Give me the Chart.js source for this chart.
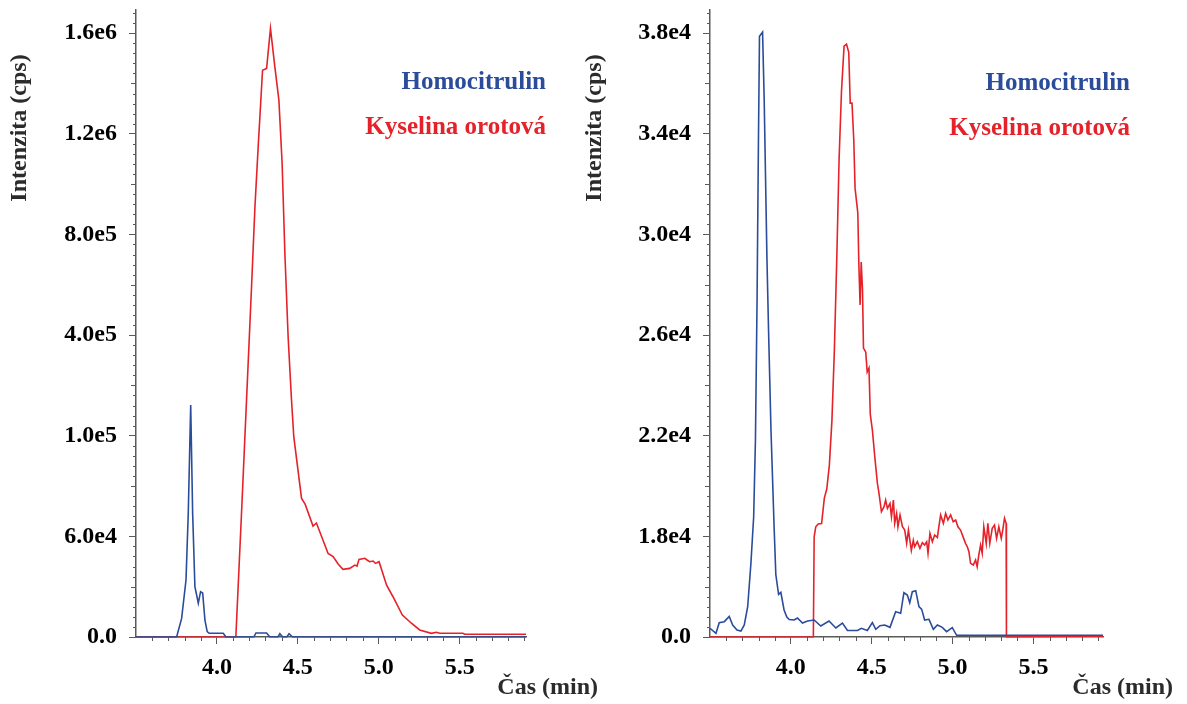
<!DOCTYPE html>
<html lang="cs">
<head>
<meta charset="utf-8">
<title>Homocitrulin a kyselina orotová</title>
<script src="https://cdn.jsdelivr.net/npm/chart.js@4.4.1/dist/chart.umd.min.js"></script>
<style>
  html, body { margin: 0; padding: 0; background: #fff; }
  body { width: 1187px; height: 704px; position: relative; overflow: hidden; }
  .panel { position: absolute; top: 0; height: 704px; }
  #panel-a { left: 0; width: 610px; }
  #panel-b { left: 575px; width: 612px; }
</style>
</head>
<body>
<div class="panel" id="panel-a"><canvas id="chart-a"></canvas></div>
<div class="panel" id="panel-b"><canvas id="chart-b"></canvas></div>
<script>
// time axis (min)
var timeTicks = [4.0, 4.5, 5.0, 5.5];

// intensity ticks (cps) - the axis is split into equal-height segments
var intensityTicksA = [0, 6e4, 1e5, 4e5, 8e5, 1.2e6, 1.6e6];
var intensityTicksB = [0, 1.8e4, 2.2e4, 2.6e4, 3.0e4, 3.4e4, 3.8e4];

// panel A - homocitrulin
var homoTimeA = [3.50, 3.751, 3.782, 3.809, 3.823, 3.838, 3.850, 3.864, 3.885, 3.899, 3.912, 3.926, 3.940, 3.952, 4.039, 4.056, 4.228, 4.241, 4.307, 4.327, 4.377, 4.389, 4.406, 4.432, 4.446, 4.467, 5.91];
var homoCpsA = [0, 0, 11100, 34000, 69300, 191500, 69300, 30000, 20100, 27000, 26200, 10100, 3200, 2200, 2200, 0, 0, 2400, 2400, 0, 0, 2000, 0, 0, 2000, 0, 0];

// panel A - kyselina orotova
var oroTimeA = [3.50, 4.117, 4.152, 4.183, 4.214, 4.235, 4.255, 4.282, 4.307, 4.331, 4.358, 4.383, 4.403, 4.420, 4.440, 4.461, 4.475, 4.523, 4.545, 4.594, 4.615, 4.687, 4.718, 4.749, 4.779, 4.821, 4.852, 4.866, 4.878, 4.914, 4.928, 4.944, 4.965, 4.980, 5.002, 5.048, 5.088, 5.146, 5.202, 5.253, 5.325, 5.356, 5.377, 5.520, 5.531, 5.91];
var oroCpsA = [0, 0, 69200, 206000, 592000, 909600, 1148000, 1452800, 1459600, 1618800, 1466000, 1333600, 1082000, 724400, 394900, 206000, 99600, 75100, 72800, 64100, 65300, 49800, 47900, 43500, 40300, 40900, 42900, 42300, 46300, 46900, 45900, 44900, 45300, 43900, 44900, 31000, 24000, 13100, 8200, 4200, 2200, 2800, 2200, 2200, 1600, 1600];

// panel B - homocitrulin
var homoTimeB = [3.50, 3.537, 3.557, 3.588, 3.619, 3.640, 3.667, 3.691, 3.712, 3.733,
  3.753, 3.770, 3.781, 3.791, 3.799, 3.806, 3.825, 3.835, 3.852, 3.862,
  3.877, 3.897, 3.907, 3.924, 3.938, 3.958, 3.975, 3.990, 4.020, 4.041,
  4.072, 4.103, 4.144, 4.185, 4.236, 4.278, 4.319, 4.350, 4.412, 4.436,
  4.473, 4.504, 4.525, 4.551, 4.580, 4.613, 4.648, 4.679, 4.699, 4.720,
  4.735, 4.751, 4.772, 4.792, 4.809, 4.827, 4.854, 4.881, 4.906, 4.936,
  4.963, 4.998, 5.025, 5.93];
var homoCpsB = [1560, 660, 2560, 2740, 3670, 2150, 1250, 1070, 2150, 5420,
  13180, 18780, 21830, 27390, 33350, 37880, 38040, 35380, 29070, 26200,
  22230, 18250, 11180, 7630, 7990, 4830, 3580, 3130, 3040, 3400,
  2500, 2860, 3040, 1970, 2860, 1610, 2500, 1160, 1160, 1560,
  1160, 2560, 1380, 2020, 2150, 1730, 4520, 4240, 7920, 7510,
  6130, 8100, 8280, 5420, 4950, 3040, 3160, 1380, 2150, 1730,
  950, 1660, 300, 300];

// panel B - kyselina orotova
var oroTimeB = [3.50, 4.139, 4.144, 4.154, 4.169, 4.190, 4.207, 4.222, 4.238, 4.254,
  4.269, 4.284, 4.298, 4.313, 4.329, 4.344, 4.358, 4.367, 4.378, 4.389,
  4.397, 4.414, 4.420, 4.428, 4.435, 4.443, 4.449, 4.463, 4.472, 4.483,
  4.491, 4.504, 4.519, 4.535, 4.545, 4.560, 4.576, 4.586, 4.597, 4.613,
  4.622, 4.634, 4.642, 4.654, 4.662, 4.675, 4.690, 4.704, 4.716, 4.727,
  4.736, 4.745, 4.757, 4.765, 4.782, 4.798, 4.813, 4.827, 4.840, 4.848,
  4.860, 4.875, 4.889, 4.906, 4.915, 4.926, 4.943, 4.957, 4.971, 4.988,
  5.004, 5.019, 5.033, 5.049, 5.066, 5.080, 5.091, 5.101, 5.111, 5.128,
  5.142, 5.152, 5.162, 5.173, 5.183, 5.193, 5.208, 5.218, 5.230, 5.245,
  5.259, 5.272, 5.286, 5.301, 5.310, 5.321, 5.331, 5.333, 5.93];
var oroCpsB = [0, 0, 17930, 18380, 18490, 18510, 19520, 19880, 20830, 22620,
  25400, 29060, 32950, 35690, 37480, 37560, 37240, 35220, 35220, 33750,
  31840, 30850, 28900, 27200, 28900, 27790, 25480, 25320, 24530, 24690,
  22860, 22220, 21160, 20110, 19710, 18980, 19180, 19440, 19110, 19310,
  18780, 19440, 18520, 18910, 18380, 18850, 18380, 18250, 16750, 18250,
  17280, 15490, 17280, 16150, 17040, 15860, 16860, 16450, 17040, 14970,
  18120, 17040, 18050, 17820, 18380, 18850, 18520, 18910, 18650, 18850,
  18580, 18650, 18380, 18250, 17820, 16750, 16150, 15250, 13180, 12870,
  13770, 12570, 14660, 16450, 14970, 18380, 16750, 18520, 16750, 18320,
  18450, 17650, 18380, 17650, 18250, 18720, 18520, 0, 150];

var BLUE = '#2b4c9b';
var RED = '#e5222a';
var AXIS = '#5a5a5a';
var FONT = "'Liberation Serif', 'Times New Roman', serif";

// Linear scale whose tick intervals all get the same height,
// whatever the value step between them is.
class SegmentScale extends Chart.LinearScale {
	static id = 'segment';

	get units() {
		return this.options.stops.length - 1 + this.options.headroom;
	}
	determineDataLimits() {
		var s = this.options.stops;
		var n = s.length - 1;
		this.min = s[0];
		this.max = s[n] + (s[n] - s[n - 1]) * this.options.headroom;
	}
	buildTicks() {
		return this.options.stops.map(function (v) { return { value: v }; });
	}
	toUnits(v) {
		var s = this.options.stops;
		for (var i = 0; i < s.length - 2; i++) {
			if (v <= s[i + 1]) return i + (v - s[i]) / (s[i + 1] - s[i]);
		}
		var k = s.length - 2;
		return k + (v - s[k]) / (s[k + 1] - s[k]);
	}
	getPixelForValue(v) {
		return this.getPixelForDecimal(this.toUnits(v) / this.units);
	}
	getValueForPixel(p) {
		var s = this.options.stops;
		var u = this.getDecimalForPixel(p) * this.units;
		var i = Math.min(Math.max(Math.floor(u), 0), s.length - 2);
		return s[i] + (u - i) * (s[i + 1] - s[i]);
	}
}
Chart.register(SegmentScale);

Chart.defaults.font.family = FONT;
Chart.defaults.font.weight = 'bold';
Chart.defaults.font.size = 24;
Chart.defaults.color = '#000';

function pairs(xs, ys) {
	return xs.map(function (x, i) { return { x: x, y: ys[i] }; });
}

function line(ctx, x1, y1, x2, y2) {
	ctx.beginPath();
	ctx.moveTo(x1, y1);
	ctx.lineTo(x2, y2);
	ctx.stroke();
}

// minor ticks, axis titles and the coloured compound names
var decor = {
	id: 'decor',
	afterDraw: function (chart, args, opts) {
		var ctx = chart.ctx;
		var area = chart.chartArea;
		var x = chart.scales.x;
		var y = chart.scales.y;
		ctx.save();
		ctx.strokeStyle = AXIS;
		ctx.lineWidth = 1;

		var n = y.units;
		for (var k = 1; k < n * 10; k++) {
			if (k % 10 === 0) continue;
			var py = Math.round(y.getPixelForDecimal(k / 10 / n)) + 0.5;
			var len = k % 5 === 0 ? 5 : 3;
			line(ctx, area.left - len, py, area.left, py);
		}
		for (var t = Math.ceil(x.min * 10); t <= Math.floor(x.max * 10); t++) {
			if (t % 5 === 0) continue;
			var px = Math.round(x.getPixelForValue(t / 10)) + 0.5;
			line(ctx, px, area.bottom, px, area.bottom + 4);
		}

		ctx.font = 'bold 24px ' + FONT;
		ctx.fillStyle = '#2b2b2b';
		ctx.textBaseline = 'middle';

		ctx.save();
		ctx.translate(opts.yTitleX, opts.yTitleY);
		ctx.rotate(-Math.PI / 2);
		ctx.textAlign = 'center';
		ctx.fillText('Intenzita (cps)', 0, 0);
		ctx.restore();

		ctx.textAlign = 'right';
		ctx.fillText('Čas (min)', opts.xTitleRight, opts.xTitleY);

		ctx.font = 'bold 25px ' + FONT;
		chart.data.datasets.forEach(function (ds, i) {
			ctx.fillStyle = ds.borderColor;
			ctx.fillText(ds.label, opts.legendRight, opts.legendTop + i * 45);
		});
		ctx.restore();
	}
};

function makeChart(canvasId, homo, oro, stops, xMax, yWidth, textPos) {
	return new Chart(document.getElementById(canvasId), {
		type: 'line',
		data: {
			datasets: [{
				label: 'Homocitrulin',
				data: homo,
				borderColor: BLUE,
				borderWidth: 1.6,
				pointRadius: 0,
				tension: 0
			}, {
				label: 'Kyselina orotová',
				data: oro,
				borderColor: RED,
				borderWidth: 1.6,
				pointRadius: 0,
				tension: 0
			}]
		},
		options: {
			responsive: true,
			maintainAspectRatio: false,
			animation: false,
			events: [],
			layout: { padding: { left: 0, top: 10, right: 84, bottom: 0 } },
			plugins: {
				legend: { display: false },
				tooltip: { enabled: false },
				decor: textPos
			},
			scales: {
				x: {
					type: 'linear',
					min: 3.5,
					max: xMax,
					border: { display: true, color: AXIS, width: 1.5 },
					grid: { drawOnChartArea: false, drawTicks: true, tickLength: 7, color: AXIS },
					ticks: {
						padding: 9,
						maxRotation: 0,
						autoSkip: false,
						callback: function (v) { return v.toFixed(1); }
					},
					afterBuildTicks: function (scale) {
						scale.ticks = timeTicks.map(function (v) { return { value: v }; });
					},
					afterFit: function (scale) {
						scale.height = 67;
						scale.paddingLeft = 0;
						scale.paddingRight = 0;
					}
				},
				y: {
					type: 'segment',
					stops: stops,
					headroom: 0.23,
					border: { display: true, color: AXIS, width: 1.5 },
					grid: { drawOnChartArea: false, drawTicks: true, tickLength: 7, color: AXIS },
					ticks: {
						padding: 12,
						autoSkip: false,
						callback: function (v) {
							return v === 0 ? '0.0' : v.toExponential(1).replace('e+', 'e');
						}
					},
					afterFit: function (scale) {
						scale.width = yWidth;
						scale.paddingTop = 0;
						scale.paddingBottom = 0;
					}
				}
			}
		},
		plugins: [decor]
	});
}

makeChart('chart-a', pairs(homoTimeA, homoCpsA), pairs(oroTimeA, oroCpsA), intensityTicksA, 5.91, 136,
	{ yTitleX: 20, yTitleY: 128, xTitleRight: 598, xTitleY: 688, legendRight: 546, legendTop: 83 });
makeChart('chart-b', pairs(homoTimeB, homoCpsB), pairs(oroTimeB, oroCpsB), intensityTicksB, 5.93, 135,
	{ yTitleX: 20, yTitleY: 128, xTitleRight: 598, xTitleY: 688, legendRight: 555, legendTop: 84 });
</script>
</body>
</html>
